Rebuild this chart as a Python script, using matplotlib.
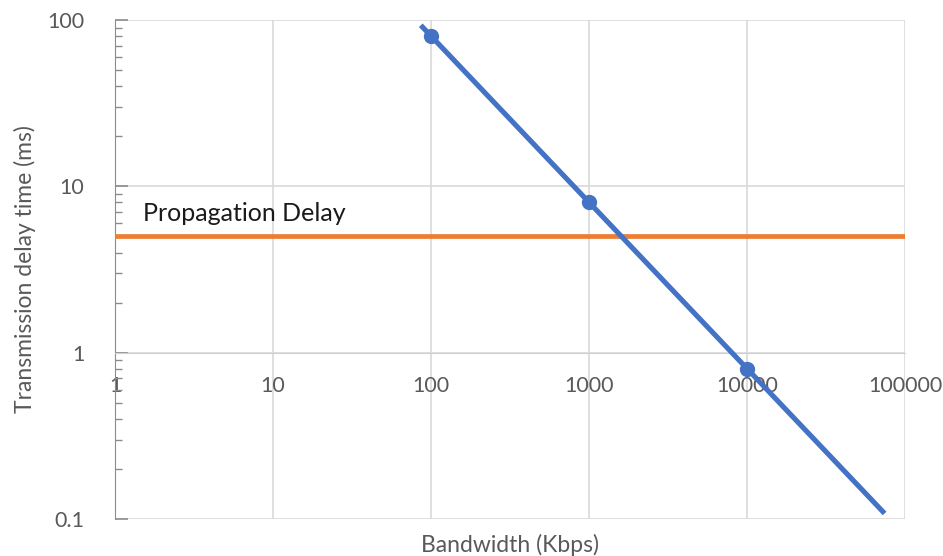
import numpy as np
import matplotlib.pyplot as plt

plt.rcParams['font.family'] = ['Lato', 'DejaVu Sans']

# measured points (Kbps -> ms)
bandwidth = [100, 1000, 10000]
delay = [80, 8, 0.8]
# the trend line runs a bit past the first and last marker
line_bw = [86, 100, 1000, 10000, 74000]
line_delay = [93, 80, 8, 0.8, 0.108]
prop_delay = 5
x_ticks = [1, 10, 100, 1000, 10000, 100000]
y_ticks = [0.1, 1, 10, 100]

grey = '#595959'
fig = plt.figure(figsize=(9.43, 5.56), dpi=100)
ax = fig.add_axes([0.122, 0.0665, 0.838, 0.8975])
ax.set_xscale('log')
ax.set_yscale('log')
ax.set_xlim(1, 100000)
ax.set_ylim(0.1, 100)

ax.grid(True, which='major', color='#d9d9d9', linewidth=1.2)
ax.set_axisbelow(True)

ax.axhline(prop_delay, color='#ed7d31', linewidth=3.4, zorder=3)
ax.plot(line_bw, line_delay, color='#4472c4', linewidth=3.7, zorder=4,
        solid_capstyle='butt')
ax.plot(bandwidth, delay, 'o', color='#4472c4', markersize=10, zorder=5)
ax.text(1.5, 6.9, 'Propagation Delay', fontsize=18, color='#1a1a1a',
        va='center', ha='left')

ax.set_xticks(x_ticks)
ax.set_xticklabels([str(v) for v in x_ticks])
ax.set_yticks(y_ticks)
ax.set_yticklabels(['0.1', '1', '10', '100'])
ax.minorticks_on()
ax.xaxis.set_minor_locator(plt.NullLocator())

for s in ['top', 'right']:
    ax.spines[s].set_visible(False)
ax.spines['bottom'].set_position(('data', 1))
ax.spines['bottom'].set_color('#d0d0d0')
ax.spines['left'].set_color('#8c8c8c')

ax.tick_params(axis='x', length=0, pad=17, labelsize=15.5, labelcolor=grey)
ax.tick_params(axis='y', which='major', direction='in', length=9,
               width=1.2, color='#8c8c8c', pad=22, labelsize=15.5, labelcolor=grey)
ax.tick_params(axis='y', which='minor', direction='in', length=5,
               width=1, color='#8c8c8c')

ax.set_xlabel('Bandwidth (Kbps)', fontsize=16.5, color=grey)
ax.xaxis.set_label_coords(0.5, -0.03)
ax.set_ylabel('Transmission delay time (ms)', fontsize=16.5, color=grey)
ax.yaxis.set_label_coords(-0.1, 0.5)

fig.savefig('out.png', dpi=100)
